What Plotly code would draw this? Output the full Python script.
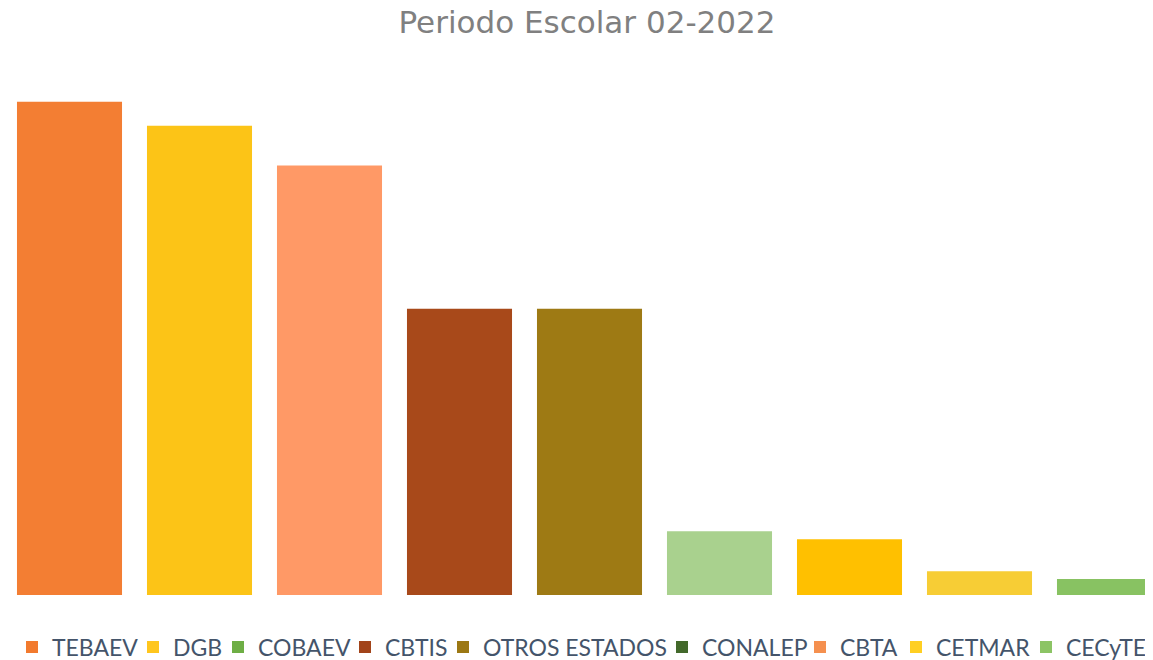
import plotly.graph_objects as go

# bars, in the order they are drawn
categories = ["TEBAEV", "DGB", "CBTA", "CBTIS", "OTROS ESTADOS", "COBAEV", "CONALEP", "CETMAR", "CECyTEV"]
values = [62, 59, 54, 36, 36, 8, 7, 3, 2]
bar_colors = ["#F37E33", "#FCC417", "#FF9966", "#A8491A", "#9E7A14", "#A9D18E", "#FFC000", "#F7CD35", "#88C262"]

# legend entries, in the order Excel lists them
legend_names = ["TEBAEV", "DGB", "COBAEV", "CBTIS", "OTROS ESTADOS", "CONALEP", "CBTA", "CETMAR", "CECyTEV"]
legend_colors = ["#F27A2E", "#FFC61E", "#6EAE45", "#A2441A", "#9C7814", "#43692B", "#F5904F", "#FFCF22", "#8CC465"]
# spacing of the legend entries (px)
legend_widths = [76, 40, 82, 53, 174, 93, 51, 85, 87]

W, H = 1145, 652  # the page adds an 8px margin at the top-left

fig = go.Figure()

fig.add_trace(
    go.Bar(
        x=categories,
        y=values,
        marker=dict(color=bar_colors, line=dict(width=0)),
        width=0.808,
        showlegend=False,
        hoverinfo="x+y",
    )
)

for name, color, lw in zip(legend_names, legend_colors, legend_widths):
    fig.add_trace(
        go.Bar(
            x=[categories[0]],
            y=[0],
            name=name,
            marker=dict(color=color, line=dict(width=0)),
            legendwidth=lw,
            hoverinfo="skip",
        )
    )

fig.update_layout(
    width=W,
    height=H,
    barmode="overlay",
    paper_bgcolor="white",
    plot_bgcolor="white",
    title=dict(
        text="Periodo Escolar 02-2022",
        x=579 / W,
        xanchor="center",
        xref="container",
        y=1 - 14 / H,
        yanchor="middle",
        font=dict(family="DejaVu Sans", size=31, color="#808080"),
    ),
    xaxis=dict(
        range=[-0.4731, 8.3346],
        showticklabels=False,
        showgrid=False,
        zeroline=False,
        showline=False,
        ticks="",
        fixedrange=True,
    ),
    yaxis=dict(
        range=[0, 66],
        showticklabels=False,
        showgrid=False,
        zeroline=False,
        showline=False,
        ticks="",
        fixedrange=True,
    ),
    legend=dict(
        orientation="h",
        xref="container",
        yref="container",
        x=4 / W,
        xanchor="left",
        y=13 / H,
        yanchor="middle",
        font=dict(family="Lato", size=23, color="#44546A"),
        bgcolor="rgba(0,0,0,0)",
        itemclick=False,
        itemdoubleclick=False,
    ),
    margin=dict(l=0, r=0, t=62, b=65, autoexpand=False),
)

fig.write_html("out.html")
